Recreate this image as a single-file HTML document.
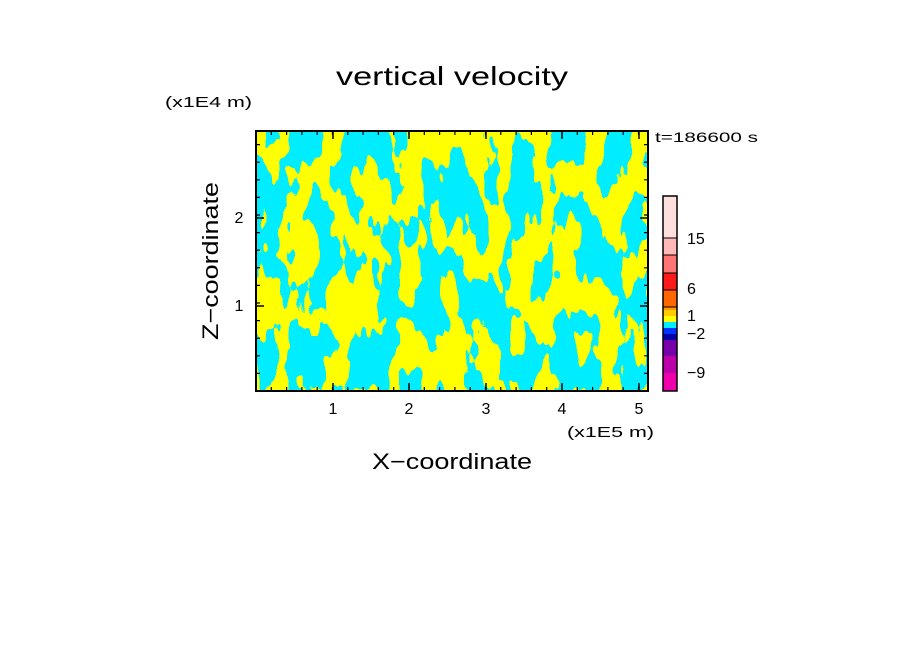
<!DOCTYPE html>
<html><head><style>
body{margin:0;background:#fff;}
svg text{font-family:"Liberation Sans",sans-serif;}
</style></head><body>
<svg width="904" height="654" viewBox="0 0 904 654" xmlns="http://www.w3.org/2000/svg">
<defs>
<filter id="f" x="256" y="131" width="392" height="260" filterUnits="userSpaceOnUse" color-interpolation-filters="sRGB">
<feTurbulence type="fractalNoise" baseFrequency="0.045 0.018" numOctaves="3" seed="7" result="n"/>
<feColorMatrix in="n" type="matrix" values="1 0 0 0 0  1 0 0 0 0  1 0 0 0 0  0 0 0 0 1" result="g"/>
<feComponentTransfer in="g">
<feFuncR type="discrete" tableValues="0 1"/>
<feFuncG type="discrete" tableValues="0.93 1"/>
<feFuncB type="discrete" tableValues="1 0"/>
</feComponentTransfer>
</filter>
</defs>
<text x="452" y="85" font-size="26" text-anchor="middle" textLength="232" lengthAdjust="spacingAndGlyphs">vertical velocity</text>
<text x="165" y="107" font-size="15" textLength="87" lengthAdjust="spacingAndGlyphs">(x1E4 m)</text>
<rect x="256" y="131" width="392" height="260" fill="#00eeff"/>
<rect x="256" y="131" width="392" height="260" filter="url(#f)"/>
<g stroke="#000">
<line x1="258" y1="391" x2="258" y2="131" stroke-width="4" stroke-dasharray="1.2 16.4" stroke-dashoffset="0.6"/>
<line x1="646" y1="391" x2="646" y2="131" stroke-width="4" stroke-dasharray="1.2 16.4" stroke-dashoffset="0.6"/>
<line x1="256" y1="389" x2="648" y2="389" stroke-width="4" stroke-dasharray="1.2 14.1" stroke-dashoffset="0.6"/>
<line x1="256" y1="133" x2="648" y2="133" stroke-width="4" stroke-dasharray="1.2 14.1" stroke-dashoffset="0.6"/>
</g>
<rect x="256" y="131" width="392" height="260" fill="none" stroke="#000" stroke-width="2"/>
<g stroke="#000" stroke-width="1.5">
<line x1="333" y1="391" x2="333" y2="383"/><line x1="409" y1="391" x2="409" y2="383"/><line x1="486" y1="391" x2="486" y2="383"/><line x1="562" y1="391" x2="562" y2="383"/><line x1="639" y1="391" x2="639" y2="383"/>
<line x1="333" y1="131" x2="333" y2="139"/><line x1="409" y1="131" x2="409" y2="139"/><line x1="486" y1="131" x2="486" y2="139"/><line x1="562" y1="131" x2="562" y2="139"/><line x1="639" y1="131" x2="639" y2="139"/>
<line x1="256" y1="306" x2="264" y2="306"/><line x1="256" y1="218" x2="264" y2="218"/>
<line x1="648" y1="306" x2="640" y2="306"/><line x1="648" y1="218" x2="640" y2="218"/>
</g>
<g font-size="16" text-anchor="middle">
<text x="333" y="414">1</text><text x="409" y="414">2</text><text x="486" y="414">3</text><text x="562" y="414">4</text><text x="639" y="414">5</text>
</g>
<text x="239" y="311" font-size="16" text-anchor="middle">1</text>
<text x="239" y="223" font-size="16" text-anchor="middle">2</text>
<text x="567" y="437" font-size="15" textLength="87" lengthAdjust="spacingAndGlyphs">(x1E5 m)</text>
<text x="452" y="469" font-size="22" text-anchor="middle" textLength="160" lengthAdjust="spacingAndGlyphs">X−coordinate</text>
<text transform="translate(218,261) rotate(-90)" font-size="22" text-anchor="middle" textLength="158" lengthAdjust="spacingAndGlyphs">Z−coordinate</text>
<text x="655" y="142" font-size="14" textLength="103" lengthAdjust="spacingAndGlyphs">t=186600 s</text>
<g>
<rect x="663" y="196" width="14" height="42" fill="#ffdede"/>
<rect x="663" y="238" width="14" height="17" fill="#ffb8b8"/>
<rect x="663" y="255" width="14" height="18" fill="#ff7575"/>
<rect x="663" y="273" width="14" height="17" fill="#ff1a1a"/>
<rect x="663" y="290" width="14" height="17" fill="#ff6600"/>
<rect x="663" y="307" width="14" height="3" fill="#ff9900"/>
<rect x="663" y="310" width="14" height="6" fill="#ffcc00"/>
<rect x="663" y="316" width="14" height="6" fill="#ffff00"/>
<rect x="663" y="322" width="14" height="6" fill="#00eeff"/>
<rect x="663" y="328" width="14" height="6" fill="#0033ff"/>
<rect x="663" y="334" width="14" height="6" fill="#0000aa"/>
<rect x="663" y="340" width="14" height="16" fill="#7700aa"/>
<rect x="663" y="356" width="14" height="17" fill="#bb00aa"/>
<rect x="663" y="373" width="14" height="18" fill="#ee00aa"/>
<rect x="663" y="196" width="14" height="195" fill="none" stroke="#000" stroke-width="1.5"/>
<g stroke="#000" stroke-width="1"><line x1="663" y1="238" x2="677" y2="238"/><line x1="663" y1="255" x2="677" y2="255"/><line x1="663" y1="273" x2="677" y2="273"/><line x1="663" y1="290" x2="677" y2="290"/><line x1="663" y1="307" x2="677" y2="307"/></g>
</g>
<g font-size="16">
<text x="687" y="244">15</text>
<text x="687" y="294">6</text>
<text x="687" y="321">1</text>
<text x="687" y="339">−2</text>
<text x="687" y="378">−9</text>
</g>
</svg>
</body></html>
